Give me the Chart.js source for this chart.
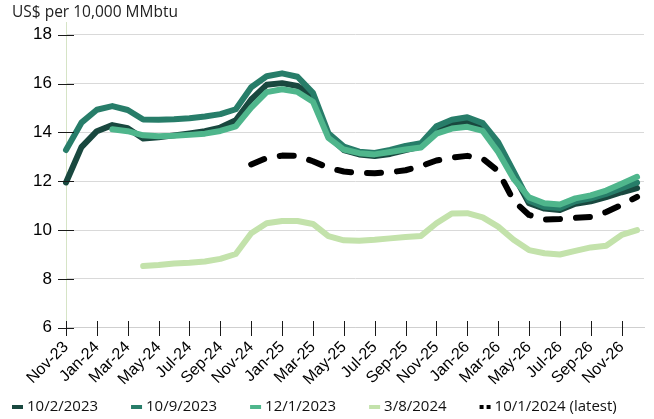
<!DOCTYPE html>
<html>
<head>
<meta charset="utf-8">
<script src="https://cdn.jsdelivr.net/npm/chart.js@4.4.0/dist/chart.umd.min.js"></script>
<style>
html,body{margin:0;padding:0;background:#ffffff;}
#wrap{width:654px;height:419px;position:relative;}
</style>
</head>
<body>
<div id="wrap"><canvas id="c" width="654" height="419"></canvas></div>
<script>
// ---- categories (monthly) ----
const months = ['Nov-23','Dec-23','Jan-24','Feb-24','Mar-24','Apr-24','May-24','Jun-24','Jul-24','Aug-24','Sep-24','Oct-24',
  'Nov-24','Dec-24','Jan-25','Feb-25','Mar-25','Apr-25','May-25','Jun-25','Jul-25','Aug-25','Sep-25','Oct-25',
  'Nov-25','Dec-25','Jan-26','Feb-26','Mar-26','Apr-26','May-26','Jun-26','Jul-26','Aug-26','Sep-26','Oct-26',
  'Nov-26','Dec-26'];
// tick labels shown on the x axis (every other month)
const xTickIndex = [0,2,4,6,8,10,12,14,16,18,20,22,24,26,28,30,32,34,36];
const yTickValues = [6,8,10,12,14,16,18];

// ---- series (US$ per 10,000 MMbtu) ----
const names = ['10/2/2023','10/9/2023','12/1/2023','3/8/2024','10/1/2024 (latest)'];
const curve_2023_10_02 = [11.95,13.4,14.05,14.3,14.17,13.75,13.8,13.88,13.96,14.05,14.2,14.5,
  15.35,15.95,16.02,15.9,15.47,13.85,13.28,13.1,13.03,13.12,13.28,13.42,
  14.1,14.35,14.42,14.2,13.4,12.25,11.1,10.88,10.82,11.08,11.18,11.35,11.55,11.72];
const curve_2023_10_09 = [13.28,14.4,14.93,15.08,14.92,14.53,14.52,14.54,14.58,14.65,14.75,14.95,
  15.85,16.3,16.42,16.28,15.62,13.97,13.42,13.21,13.16,13.28,13.45,13.56,
  14.25,14.52,14.62,14.38,13.6,12.4,11.2,10.95,10.9,11.18,11.3,11.48,11.72,11.95];
const curve_2023_12_01 = [null,null,null,14.13,14.05,13.88,13.84,13.86,13.9,13.95,14.06,14.25,
  15.02,15.65,15.77,15.66,15.26,13.78,13.3,13.15,13.1,13.2,13.3,13.38,
  13.95,14.16,14.23,14.06,13.2,12.1,11.34,11.1,11.05,11.3,11.42,11.62,11.9,12.18];
const curve_2024_03_08 = [null,null,null,null,null,8.53,8.57,8.63,8.66,8.71,8.82,9.02,
  9.87,10.28,10.37,10.37,10.25,9.75,9.58,9.56,9.6,9.66,9.72,9.76,
  10.28,10.68,10.69,10.52,10.14,9.6,9.18,9.05,9.0,9.15,9.29,9.36,9.8,10.0];
const curve_2024_10_01 = [null,null,null,null,null,null,null,null,null,null,null,null,
  12.69,12.95,13.05,13.04,12.82,12.55,12.4,12.34,12.33,12.37,12.45,12.62,
  12.85,12.97,13.04,12.93,12.42,11.2,10.62,10.43,10.45,10.5,10.54,10.74,11.03,11.36];

const colors = ['#19483f','#277d69','#4fb68c','#c3e2ab','#000000'];

function toPoints(arr){ return arr.map((v,i)=>({x:i, y:v})); }

const seriesList = [curve_2023_10_02, curve_2023_10_09, curve_2023_12_01, curve_2024_03_08, curve_2024_10_01];
// drawing order: lower 'order' is drawn on top
const drawOrder = [3, 2, 1, 4, 0];

const datasets = seriesList.map((arr, k) => ({
  label: names[k],
  data: toPoints(arr),
  borderColor: colors[k],
  backgroundColor: colors[k],
  borderWidth: 6,
  pointRadius: 0,
  pointHoverRadius: 0,
  tension: 0,
  fill: false,
  spanGaps: false,
  clip: false,
  borderCapStyle: 'round',
  borderJoinStyle: 'round',
  borderDash: k === 4 ? [14, 16] : [],
  order: drawOrder[k]
}));

const LABEL_FONT = '"Liberation Sans", Arial, sans-serif';
const TEXT_FONT = '"Open Sans", "Liberation Sans", sans-serif';

const axisTicks = {
  id: 'axisTicks',
  afterDraw(chart) {
    const {ctx, scales: {x, y}} = chart;
    ctx.save();
    ctx.strokeStyle = '#1a1a1a';
    ctx.lineWidth = 1;
    const left = Math.round(x.left);
    const bottom = Math.round(y.bottom);
    y.ticks.forEach(t => {
      const py = Math.round(y.getPixelForValue(t.value)) + 0.5;
      ctx.beginPath(); ctx.moveTo(left - 8, py); ctx.lineTo(left + 8, py); ctx.stroke();
    });
    x.ticks.forEach(t => {
      const px = Math.round(x.getPixelForValue(t.value)) + 0.5;
      ctx.beginPath(); ctx.moveTo(px, bottom - 7); ctx.lineTo(px, bottom + 8); ctx.stroke();
    });
    ctx.restore();
  }
};

const customLegend = {
  id: 'customLegend',
  afterDraw(chart) {
    const ctx = chart.ctx;
    ctx.save();
    ctx.font = '15px ' + TEXT_FONT;
    ctx.textBaseline = 'middle';
    ctx.textAlign = 'left';
    let x = 12;
    const yc = 407;
    chart.data.datasets.forEach(ds => {
      ctx.fillStyle = ds.borderColor;
      if (ds.borderDash && ds.borderDash.length) {
        ctx.fillRect(x, yc - 2, 4, 4);
        ctx.fillRect(x + 7, yc - 2, 4, 4);
      } else {
        ctx.fillRect(x, yc - 2, 11, 4);
      }
      ctx.fillStyle = '#111';
      ctx.fillText(ds.label, x + 15, yc);
      x += 15 + ctx.measureText(ds.label).width + 33;
    });
    ctx.restore();
  }
};

new Chart(document.getElementById('c'), {
  type: 'line',
  data: { datasets },
  options: {
    responsive: false,
    animation: false,
    devicePixelRatio: 1,
    layout: { padding: { left: 12, right: 10, top: 0, bottom: 21 } },
    plugins: {
      legend: { display: false },
      tooltip: { enabled: false },
      title: {
        display: true,
        text: 'US$ per 10,000 MMbtu',
        align: 'start',
        color: '#222',
        font: { family: TEXT_FONT, size: 15.5, weight: 'normal' },
        padding: { top: 3, bottom: 1 }
      }
    },
    scales: {
      x: {
        type: 'linear',
        min: 0,
        max: 37.45,
        afterBuildTicks: s => { s.ticks = xTickIndex.map(v => ({ value: v })); },
        afterFit: s => { s.height = 70.3; },
        grid: { display: true, drawOnChartArea: false, drawTicks: true, tickLength: 8, tickColor: 'rgba(0,0,0,0)' },
        border: { display: true, color: '#cfcfcf', width: 1 },
        ticks: {
          autoSkip: false,
          minRotation: 45,
          maxRotation: 45,
          padding: 2,
          color: '#000',
          font: { family: LABEL_FONT, size: 16 },
          callback: v => months[v]
        }
      },
      y: {
        min: 6,
        max: 18.5,
        afterBuildTicks: s => { s.ticks = yTickValues.map(v => ({ value: v })); },
        afterFit: s => { s.width = 54; },
        grid: { color: '#d9d9d9', lineWidth: 1, drawTicks: true, tickLength: 8, tickColor: 'rgba(0,0,0,0)' },
        border: { display: true, color: '#d6e4c6', width: 1 },
        ticks: {
          padding: 6,
          color: '#000',
          font: { family: LABEL_FONT, size: 17 },
          callback: v => String(v)
        }
      }
    }
  },
  plugins: [axisTicks, customLegend]
});
</script>
</body>
</html>
